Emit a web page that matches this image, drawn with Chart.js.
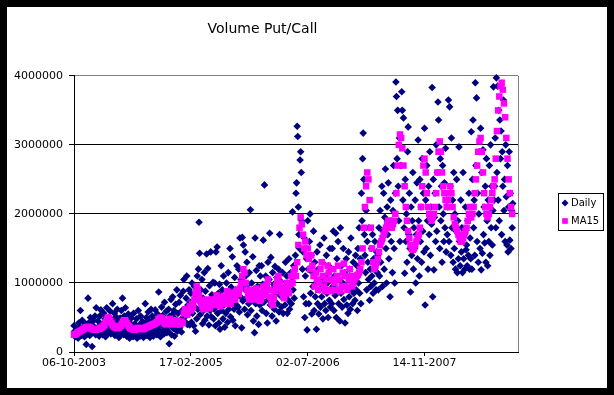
<!DOCTYPE html>
<html>
<head>
<meta charset="utf-8">
<title>Volume Put/Call</title>
<script src="https://cdn.jsdelivr.net/npm/chart.js@4/dist/chart.umd.min.js"></script>
<style>
    html, body { margin: 0; padding: 0; background: #000; }
    #wrap { position: absolute; left: 7px; top: 7px; width: 600px; height: 381px; background: #fff; }
</style>
</head>
<body>
<div id="wrap"><canvas id="myChart" width="600" height="381"></canvas></div>
<script>
// --- Data (values in thousands) ---

// first date on the x axis is 06-10-2003; x values are days after it
const xTickLabels = ['06-10-2003', '17-02-2005', '02-07-2006', '14-11-2007'];
const xTickStepDays = 500;
const dailyStepDays = 2.5;
const maStepDays = 5;

// Daily put/call volume (x1000)
const dailyK = [
    380,300,220,260,310,250,280,200,420,350,290,600,330,240,460,300,270,380,220,330,410,110,350,260,780,420,300,240,500,380,270,80,330,450,290,360,520,250,640,310,
    280,450,370,230,520,330,610,290,400,250,350,560,300,480,220,390,640,310,270,500,430,350,590,260,470,380,700,300,420,560,240,360,510,280,620,330,450,210,380,490,
    330,600,270,780,410,250,520,360,640,300,230,450,380,550,280,200,420,310,490,260,370,220,560,300,410,240,330,480,200,350,600,270,390,230,520,310,270,440,350,210,
    260,420,700,330,500,240,380,580,300,450,210,370,620,280,520,340,230,470,390,610,290,430,250,550,360,870,310,480,220,400,650,300,530,380,260,720,420,340,590,280,
    450,300,620,120,520,380,760,250,540,800,340,600,230,480,690,380,900,300,560,440,720,350,820,470,290,600,420,880,1050,500,620,430,780,1100,400,680,550,900,390,720,
    850,430,1000,560,720,380,950,650,300,820,480,1100,620,1200,1880,1430,540,900,700,1050,410,780,600,1150,460,880,680,1420,520,1210,740,390,960,600,1450,510,830,660,1010,480,
    620,1000,380,1450,700,1520,560,850,420,980,330,760,1250,600,900,480,1100,680,360,820,560,1000,740,430,1150,620,880,1500,510,940,700,1380,460,820,620,1080,380,900,680,1250,
    900,650,1200,580,1650,800,1050,350,1660,740,1550,920,620,1450,1100,780,1300,540,980,700,1150,850,2060,600,1000,760,1380,450,900,280,1650,700,1180,520,950,820,400,1250,680,1100,
    820,1250,600,980,1620,720,2420,880,1100,560,940,420,1300,760,1050,1720,680,1370,900,520,1150,780,980,620,1240,860,450,1080,700,950,1200,580,1700,820,1020,650,880,1150,560,930,
    900,680,1300,820,1100,560,1000,750,1350,620,880,1150,700,1020,2030,900,1250,780,1100,1400,2300,2450,3270,3120,2100,1700,1500,2780,2900,2600,1900,1200,1450,800,1650,500,1100,700,1350,320,
    1900,1200,700,1600,2000,850,1400,550,1150,950,1750,600,1300,800,1000,330,1450,700,1200,550,900,1550,650,1050,800,1300,480,950,1650,700,1100,600,1400,850,1000,500,1250,750,1500,650,
    1200,700,1500,950,1750,600,1100,820,1720,500,1350,900,1600,700,1050,450,1800,850,1250,650,1000,1500,760,1150,420,950,1350,680,1100,560,1450,800,1200,620,1650,900,1050,700,1300,850,
    1100,750,1400,900,1250,600,1500,1000,1800,850,1350,700,2300,1900,2800,3170,2500,1700,1400,1150,2050,900,1600,1300,1050,1800,750,1200,950,1500,1100,1700,850,1350,1000,1600,1250,900,1450,1150,
    1400,900,1800,1100,2050,1300,1600,2400,950,1750,2300,1200,1950,2650,1500,1000,2100,1700,2450,1350,1850,800,2200,1600,1900,1150,2050,2700,1500,1000,2300,3910,3700,2800,3500,2400,1900,3100,1600,2700,
    2700,3770,3500,2200,3390,1800,1140,2500,1600,2000,1300,2900,3260,1700,2300,1500,870,2100,1400,1900,2600,1200,1800,1500,2200,1000,1700,2450,1350,3070,1900,1100,2500,1600,2100,1300,2800,1750,2300,1450,
    3240,680,2200,1500,2700,1900,1200,2400,1700,2900,1400,2100,1850,3830,800,2500,1190,1950,2300,1600,3000,1750,2600,3620,3360,2100,1500,2800,1900,2400,1300,2700,2000,1600,2450,1800,2950,1450,2200,1700,
    2100,3650,1600,3550,2400,1400,3100,1800,2200,1300,2600,1500,2000,1200,1750,2500,1150,1900,1350,2970,1600,1250,2200,1450,1800,1150,2600,1350,1700,1200,2100,1480,1550,1250,1900,1400,2300,1200,1650,1350,
    3190,1200,2500,3360,1800,2200,1400,3900,2700,3680,1600,2300,1300,2000,2900,1500,3240,1190,2600,1430,2930,1700,2100,1580,2400,1300,2800,1900,1250,2200,1600,2700,1400,3000,1800,2400,1550,2050,3840,2200,
    2400,3100,1800,3970,2600,3850,2200,3500,1900,3360,2800,3200,1700,2900,2400,3650,2050,2500,1600,3000,2250,1550,2700,1450,2100,2900,1620,2300,1500,2050,1800,2150
];

// 15 day moving average (x1000)
const ma15K = [
    250,255,265,280,290,300,310,320,330,345,355,360,365,360,350,340,330,325,320,325,
    330,335,340,350,360,370,390,430,470,500,490,450,420,390,370,360,350,345,350,360,
    380,410,440,460,450,420,390,370,350,340,330,325,320,330,340,350,345,340,335,330,
    340,350,360,365,370,380,390,395,400,410,420,430,450,480,500,490,460,430,410,400,
    410,450,480,430,400,460,440,420,400,450,430,400,440,420,560,620,580,540,620,660,
    600,700,650,760,850,950,900,820,740,700,650,620,700,760,720,660,630,700,760,720,
    680,760,820,760,700,660,740,800,760,700,820,880,800,740,700,780,860,820,760,880,
    900,840,920,1000,1100,1200,1150,1000,900,820,760,840,900,820,760,860,920,860,780,740,
    760,860,950,900,820,980,1050,900,800,720,680,780,880,960,1050,1100,1000,920,860,800,
    780,900,1000,920,850,980,1100,1000,1150,1200,1100,1300,1550,1800,1950,1850,1700,1500,1600,1400,
    1500,1350,1200,1400,1250,1100,950,1150,1050,900,1000,1200,1300,1100,950,880,1050,1250,1150,900,
    880,1050,1200,1000,900,1100,1250,1050,880,950,1150,1280,1100,950,900,1050,1200,1100,950,1000,
    1050,1080,1100,1120,1150,1200,1300,1500,1800,2100,2400,2600,2500,2200,1800,1500,1300,1200,1250,1300,
    1350,1450,1550,1600,1650,1700,1750,1800,1850,1900,1900,1850,1800,1850,1900,2000,2300,2700,3000,3150,
    3100,2950,2700,2400,2100,1900,1750,1650,1550,1500,1480,1500,1550,1600,1650,1700,1800,2100,2400,2700,
    2800,2600,2300,2100,2000,1950,1900,1950,2000,2100,2300,2600,2900,3050,2900,2600,2400,2300,2200,2100,
    2200,2300,2400,2300,2100,1950,1850,1800,1750,1700,1650,1600,1600,1650,1700,1750,1800,1900,2000,2100,
    1950,2000,2100,2300,2500,2700,2900,3050,3100,2900,2600,2300,2100,2000,1950,2000,2100,2200,2300,2400,
    2500,2800,3200,3500,3700,3850,3900,3800,3600,3400,3100,2800,2500,2300,2100,2000
];

const FONT = 'DejaVu Sans';

// legend box with border, drawn to the right of the plot
const boxLegend = {
    id: 'boxLegend',
    afterDraw(chart) {
        const ctx = chart.ctx;
        const a = chart.chartArea;
        ctx.save();
        // grey frame on the right of the plot area
        ctx.strokeStyle = '#808080';
        ctx.lineWidth = 1;
        ctx.beginPath();
        ctx.moveTo(Math.round(a.right) + 0.5, a.top);
        ctx.lineTo(Math.round(a.right) + 0.5, a.bottom);
        ctx.stroke();

        const x = 551, y = 186, w = 45, h = 37;
        ctx.strokeStyle = '#000';
        ctx.strokeRect(x + 0.5, y + 0.5, w, h);
        ctx.font = '10px ' + FONT;
        ctx.textBaseline = 'middle';
        chart.data.datasets.forEach((ds, i) => {
            const cy = y + 10 + i * 18;
            ctx.fillStyle = ds.backgroundColor;
            Chart.helpers.drawPoint(ctx, {
                pointStyle: ds.pointStyle,
                radius: ds.pointStyle === 'rect' ? 4 : 3.5,
                borderWidth: 0,
                rotation: 0
            }, x + 7, cy);
            ctx.fillStyle = '#000';
            ctx.fillText(ds.label, x + 13, cy);
        });
        ctx.restore();
    }
};

function renderChart() {
    const ctx = document.getElementById('myChart').getContext('2d');

    const dailyPoints = dailyK.map((v, i) => ({ x: i * dailyStepDays, y: v * 1000 }));
    const maPoints = ma15K.map((v, i) => ({ x: i * maStepDays, y: v * 1000 }));

    new Chart(ctx, {
        type: 'scatter',
        data: {
            datasets: [
                {
                    label: 'Daily',
                    data: dailyPoints,
                    pointStyle: 'rectRot',
                    pointRadius: 3.8,
                    pointBorderWidth: 0,
                    backgroundColor: '#000080',
                    borderColor: '#000080',
                    clip: false,
                    order: 1
                },
                {
                    label: 'MA15',
                    data: maPoints,
                    pointStyle: 'rect',
                    pointRadius: 4.6,
                    pointBorderWidth: 0,
                    backgroundColor: '#FF00FF',
                    borderColor: '#FF00FF',
                    clip: false,
                    order: 0
                }
            ]
        },
        options: {
            responsive: false,
            devicePixelRatio: 1,
            animation: false,
            layout: { padding: { left: 0, right: 89, top: 0, bottom: 0 } },
            plugins: {
                legend: { display: false },
                tooltip: { enabled: false },
                title: {
                    display: true,
                    text: 'Volume Put/Call',
                    color: '#000',
                    font: { family: FONT, size: 14, weight: 'normal' },
                    padding: { top: 14, bottom: 38 }
                }
            },
            scales: {
                x: {
                    type: 'linear',
                    min: 0,
                    max: 1900,
                    afterFit: (scale) => { scale.height = 36; },
                    afterBuildTicks: (scale) => {
                        scale.ticks = xTickLabels.map((t, i) => ({ value: i * xTickStepDays }));
                    },
                    grid: {
                        drawOnChartArea: false,
                        drawTicks: true,
                        tickLength: 4,
                        color: '#000'
                    },
                    border: { color: '#000', width: 1 },
                    ticks: {
                        autoSkip: false,
                        maxRotation: 0,
                        minRotation: 0,
                        padding: 1,
                        color: '#000',
                        font: { family: FONT, size: 11 },
                        callback: (v, i) => xTickLabels[i]
                    }
                },
                y: {
                    min: 0,
                    max: 4000000,
                    afterFit: (scale) => { scale.width = 67; },
                    grid: {
                        color: (c) => (c.tick && c.tick.value === 4000000 ? '#808080' : '#000'),
                        tickColor: '#000',
                        tickLength: 5
                    },
                    border: { color: '#000', width: 1 },
                    ticks: {
                        stepSize: 1000000,
                        padding: 6,
                        color: '#000',
                        font: { family: FONT, size: 11 },
                        callback: (v) => String(v)
                    }
                }
            }
        },
        plugins: [boxLegend]
    });
}

renderChart();
</script>
</body>
</html>
